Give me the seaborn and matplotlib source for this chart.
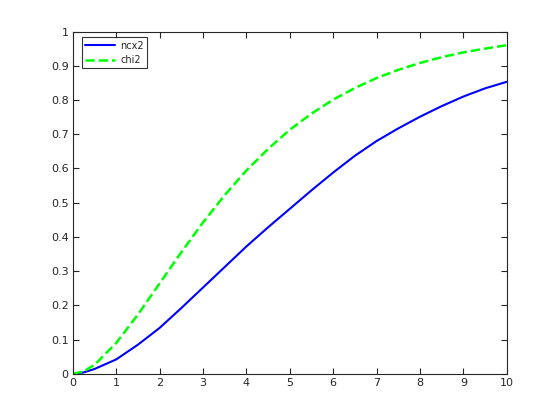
import matplotlib
matplotlib.use("Agg")
import matplotlib.pyplot as plt
import seaborn as sns
import pandas as pd

# values
x_vals = [0, 0.25, 0.5, 1, 1.5, 2, 2.5, 3, 3.5, 4, 4.5, 5, 5.5, 6, 6.5, 7, 7.5, 8, 8.5, 9, 9.5, 10]
ncx2_vals = [0, 0.004, 0.014, 0.042, 0.085, 0.134, 0.192, 0.252, 0.312, 0.372, 0.428, 0.482,
             0.536, 0.588, 0.637, 0.68, 0.717, 0.751, 0.782, 0.81, 0.834, 0.853]
chi2_vals = [0, 0.007, 0.026, 0.09, 0.173, 0.264, 0.355, 0.442, 0.522, 0.594, 0.657, 0.713,
             0.76, 0.801, 0.835, 0.864, 0.888, 0.908, 0.925, 0.939, 0.95, 0.96]
x_ticks = list(range(0, 11))
y_ticks = [0, 0.1, 0.2, 0.3, 0.4, 0.5, 0.6, 0.7, 0.8, 0.9, 1]

df = pd.DataFrame({"x": x_vals, "ncx2": ncx2_vals, "chi2": chi2_vals})

sns.set_style("white")
plt.rcParams['font.family'] = ['DejaVu Sans']

fig = plt.figure(figsize=(5.6, 4.2), dpi=100)
ax = fig.add_axes([0.13, 0.11, 0.775, 0.815])

sns.lineplot(data=df, x="x", y="ncx2", ax=ax, color="#0000ff", linewidth=1.5, label="ncx2")
sns.lineplot(data=df, x="x", y="chi2", ax=ax, color="#00ff00", linewidth=1.8,
             linestyle="--", dashes=(3, 2.5), label="chi2")

ax.set_xlim(0, 10)
ax.set_ylim(0, 1)
ax.set_xticks(x_ticks)
ax.set_yticks(y_ticks)
ax.set_xticklabels([str(t) for t in x_ticks])
ax.set_yticklabels(["0", "0.1", "0.2", "0.3", "0.4", "0.5", "0.6", "0.7", "0.8", "0.9", "1"])
ax.set_xlabel("")
ax.set_ylabel("")

edge = "#262626"
for s in ax.spines.values():
    s.set_visible(True)
    s.set_color(edge)
    s.set_linewidth(0.8)
ax.tick_params(direction="in", length=4, width=0.8, colors=edge, labelsize=8,
               top=True, right=True, bottom=True, left=True, pad=3)

leg = ax.legend(loc="upper left", fontsize=7, frameon=True, fancybox=False,
                edgecolor="black", handlelength=3.1, handletextpad=0.5,
                borderpad=0.35, labelspacing=0.45, borderaxespad=0,
                bbox_to_anchor=(0.0205, 0.983))
leg.get_frame().set_linewidth(0.8)

fig.savefig("out.png", dpi=100, facecolor="white")
